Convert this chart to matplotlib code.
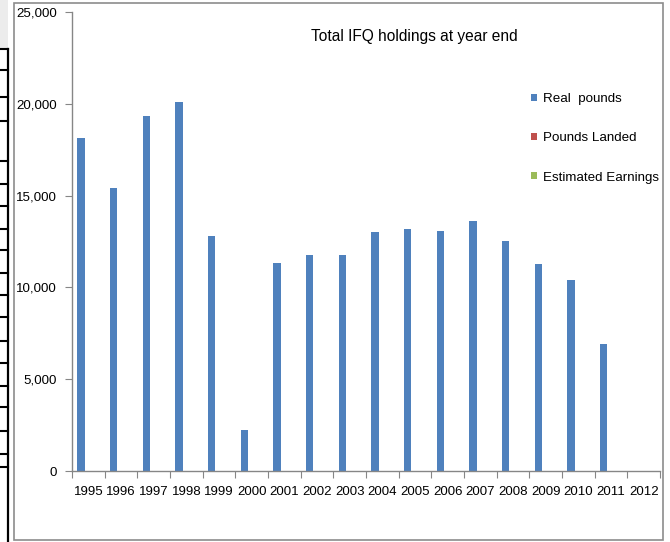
import matplotlib
matplotlib.use("Agg")
import matplotlib.pyplot as plt
import numpy as np
from matplotlib.lines import Line2D
from matplotlib.patches import Rectangle
from matplotlib.ticker import FuncFormatter, FixedLocator

plt.rcParams['font.family'] = ['Liberation Sans', 'DejaVu Sans']

years = ['1995', '1996', '1997', '1998', '1999', '2000', '2001', '2002', '2003',
         '2004', '2005', '2006', '2007', '2008', '2009', '2010', '2011', '2012']
real_pounds = [18150, 15400, 19350, 20100, 12800, 2250, 11350, 11750, 11750,
               13000, 13200, 13050, 13600, 12550, 11250, 10400, 6900, 0]
pounds_landed = [0] * 18
estimated_earnings = [0] * 18
series_names = ['Real  pounds', 'Pounds Landed', 'Estimated Earnings']
colors = ['#4F81BD', '#C0504D', '#9BBB59']

W, H = 670, 542
fig = plt.figure(figsize=(W / 100, H / 100), dpi=100)

# chart frame
fig.add_artist(Rectangle((13.5 / W, 1 - 540 / H), (663 - 13.5) / W, (540 - 3) / H,
                         transform=fig.transFigure, fill=False, edgecolor='#8c8c8c', lw=1.2))
# spreadsheet artifacts on the left
fig.add_artist(Rectangle((0, 1 - 49 / H), 8 / W, 49 / H, transform=fig.transFigure,
                         facecolor='#ececec', edgecolor='none'))
fig.add_artist(Line2D([8 / W, 8 / W], [0, 1 - 49 / H], transform=fig.transFigure,
                      color='black', lw=1.6))
for yy in [49, 70, 97, 121, 161, 184, 206, 229, 250, 273, 295, 317, 341, 363,
           386, 407, 431, 454, 467]:
    fig.add_artist(Line2D([0, 8 / W], [1 - yy / H, 1 - yy / H], transform=fig.transFigure,
                          color='black', lw=1.5))

ax = fig.add_axes([72 / W, 1 - 471 / H, (660 - 72) / W, (471 - 12) / H])
x = np.arange(len(years))
bw = 0.222
handles = []
for i, (vals, c, name) in enumerate(zip([real_pounds, pounds_landed, estimated_earnings],
                                        colors, series_names)):
    b = ax.bar(x + (i - 1) * bw, vals, width=bw, color=c, label=name, zorder=2)
    handles.append(b)

ax.set_xlim(-0.5, len(years) - 0.5)
ax.set_ylim(0, 25000)
ax.set_yticks(np.arange(0, 25001, 5000))
ax.yaxis.set_major_formatter(FuncFormatter(lambda v, p: f'{int(v):,}'))
ax.set_xticks(x)
ax.set_xticklabels(years)
ax.xaxis.set_minor_locator(FixedLocator(np.arange(-0.5, len(years), 1)))
ax.tick_params(axis='x', which='major', length=0, pad=11, labelsize=9.5)
ax.tick_params(axis='x', which='minor', length=5, color='#868686', width=0.8)
ax.tick_params(axis='y', length=5, color='#868686', width=0.8, labelsize=9.6, pad=6)
for s in ['top', 'right']:
    ax.spines[s].set_visible(False)
for s in ['left', 'bottom']:
    ax.spines[s].set_color('#868686')
    ax.spines[s].set_linewidth(1.0)

fig.text(414 / W, 1 - 37 / H, 'Total IFQ holdings at year end', ha='center', va='center',
         fontsize=11.2)

ax.legend(handles=handles, loc='upper left', bbox_to_anchor=(531 / W, 1 - 93 / H),
          bbox_transform=fig.transFigure, frameon=False, fontsize=9.6,
          handlelength=0.45, handleheight=0.45, handletextpad=0.45, labelspacing=2.05,
          borderpad=0, borderaxespad=0)

fig.savefig('out.png', dpi=100)
